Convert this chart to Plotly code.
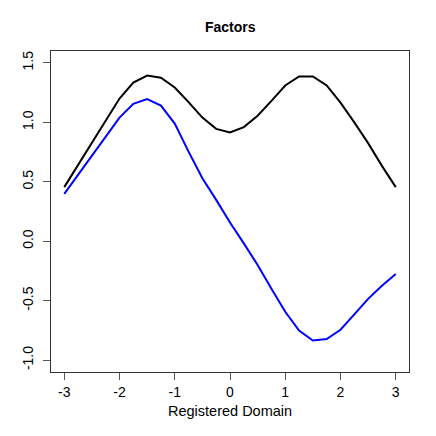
import plotly.graph_objects as go

x_vals = [-3, -2.75, -2.5, -2.25, -2, -1.75, -1.5, -1.25, -1, -0.75, -0.5, -0.25,
          0, 0.25, 0.5, 0.75, 1, 1.25, 1.5, 1.75, 2, 2.25, 2.5, 2.75, 3]
black_vals = [0.455, 0.64, 0.825, 1.01, 1.2, 1.335, 1.394, 1.375, 1.293, 1.17, 1.04, 0.945,
              0.915, 0.96, 1.055, 1.181, 1.31, 1.386, 1.386, 1.31, 1.165, 1.0, 0.825, 0.634, 0.455]
blue_vals = [0.398, 0.56, 0.72, 0.88, 1.04, 1.156, 1.195, 1.141, 0.99, 0.754, 0.53, 0.348,
             0.157, -0.018, -0.2, -0.4, -0.593, -0.752, -0.835, -0.823, -0.745, -0.615, -0.485, -0.375, -0.275]
x_ticks = [-3, -2, -1, 0, 1, 2, 3]
y_ticks = [-1.0, -0.5, 0.0, 0.5, 1.0, 1.5]
y_tick_text = ["-1.0", "-0.5", "0.0", "0.5", "1.0", "1.5"]

FONT = "Liberation Sans, Arial, sans-serif"

fig = go.Figure()
fig.add_trace(go.Scatter(x=x_vals, y=black_vals, mode="lines",
                         line=dict(color="black", width=2), showlegend=False))
fig.add_trace(go.Scatter(x=x_vals, y=blue_vals, mode="lines",
                         line=dict(color="blue", width=2), showlegend=False))

axis_common = dict(showgrid=False, zeroline=False, showline=True, mirror=True,
                   linecolor="#333333", linewidth=1, ticks="outside", ticklen=7,
                   tickcolor="#555555", automargin=False,
                   tickfont=dict(family=FONT, size=14, color="black"))

fig.update_xaxes(range=[-3.24, 3.24], tickmode="array", tickvals=x_ticks,
                 ticktext=[str(v) for v in x_ticks], **axis_common)
fig.update_yaxes(range=[-1.1, 1.6], tickmode="array", tickvals=y_ticks,
                 ticktext=y_tick_text, tickangle=-90, ticklabelstandoff=4, **axis_common)

# page body has an 8px default margin, so the figure is 428px and offset by 8px
fig.update_layout(
    width=428, height=428,
    margin=dict(l=43, r=27, t=43, b=64, pad=0),
    plot_bgcolor="white", paper_bgcolor="white",
    font=dict(family=FONT, size=14, color="black"),
    annotations=[
        dict(text="<b>Factors</b>", xref="paper", yref="paper", x=0.5, y=1,
             yshift=24, showarrow=False, xanchor="center", yanchor="middle",
             font=dict(family=FONT, size=14, color="black")),
        dict(text="Registered Domain", xref="paper", yref="paper", x=0.5, y=0,
             yshift=-39, showarrow=False, xanchor="center", yanchor="middle",
             font=dict(family=FONT, size=14.5, color="black")),
    ],
)

fig.write_html("out.html")
